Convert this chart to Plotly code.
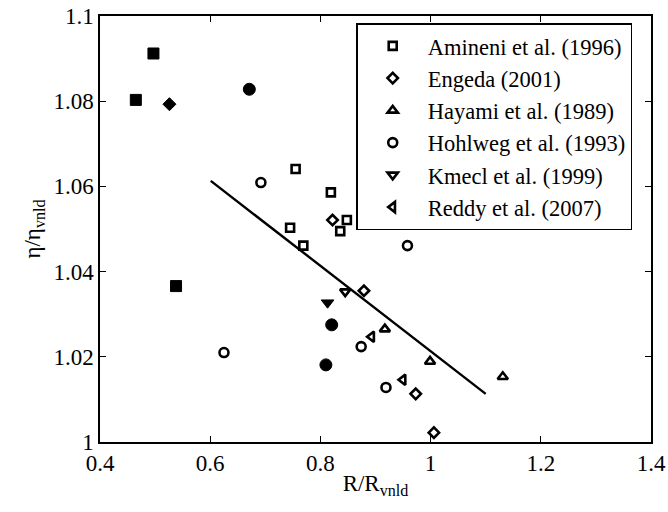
import plotly.graph_objects as go

# Open-marker series (in legend)
amineni_x = [0.755, 0.819, 0.745, 0.848, 0.836, 0.769]
amineni_y = [1.0641, 1.0586, 1.0503, 1.0521, 1.0495, 1.0461]

engeda_x = [0.822, 0.879, 0.973, 1.006]
engeda_y = [1.0521, 1.0355, 1.0113, 1.0022]

hayami_x = [0.917, 0.999, 1.131]
hayami_y = [1.0265, 1.0189, 1.0153]

hohlweg_x = [0.692, 0.958, 0.625, 0.874, 0.919]
hohlweg_y = [1.0609, 1.0461, 1.0210, 1.0224, 1.0128]

kmecl_x = [0.845]
kmecl_y = [1.0353]

reddy_x = [0.893, 0.950]
reddy_y = [1.0247, 1.0146]

# Filled-marker points (not in legend)
fsq_x = [0.497, 0.465, 0.538]
fsq_y = [1.0912, 1.0803, 1.0366]
fdia_x = [0.526]
fdia_y = [1.0793]
fcir_x = [0.671, 0.8205, 0.810]
fcir_y = [1.0828, 1.0275, 1.0181]
ftri_x = [0.813]
ftri_y = [1.0327]

# Fit line
fit_x = [0.601, 1.100]
fit_y = [1.0613, 1.0113]

x_ticks = [0.4, 0.6, 0.8, 1.0, 1.2, 1.4]
x_ticktext = ["0.4", "0.6", "0.8", "1", "1.2", "1.4"]
y_ticks = [1.0, 1.02, 1.04, 1.06, 1.08, 1.1]
y_ticktext = ["1", "1.02", "1.04", "1.06", "1.08", "1.1"]

FONT = "Liberation Serif"
FS = 23
FS_LEG = 22.5

fig = go.Figure()

def open_trace(x, y, name, symbol, size):
    fig.add_trace(go.Scatter(
        x=x, y=y, mode="markers", name=name,
        marker=dict(symbol=symbol, size=size, color="white",
                    line=dict(color="black", width=2.6)),
    ))

def filled_trace(x, y, symbol, size):
    fig.add_trace(go.Scatter(
        x=x, y=y, mode="markers", showlegend=False,
        marker=dict(symbol=symbol, size=size, color="black",
                    line=dict(color="black", width=1)),
    ))

fig.add_trace(go.Scatter(x=fit_x, y=fit_y, mode="lines", showlegend=False,
                         line=dict(color="black", width=2.4)))

open_trace(amineni_x, amineni_y, "Amineni et al. (1996)", "square", 8)
open_trace(engeda_x, engeda_y, "Engeda (2001)", "diamond", 8)
open_trace(hayami_x, hayami_y, "Hayami et al. (1989)", "triangle-up", 9)
open_trace(hohlweg_x, hohlweg_y, "Hohlweg et al. (1993)", "circle", 9)
open_trace(kmecl_x, kmecl_y, "Kmecl et al. (1999)", "triangle-down", 9)
open_trace(reddy_x, reddy_y, "Reddy et al. (2007)", "triangle-left", 9)

filled_trace(fsq_x, fsq_y, "square", 11)
filled_trace(fdia_x, fdia_y, "diamond", 10)
filled_trace(fcir_x, fcir_y, "circle", 12)
filled_trace(ftri_x, ftri_y, "triangle-down", 11)

axis_common = dict(
    showline=True, linecolor="black", linewidth=1.5, mirror="ticks",
    ticks="inside", ticklen=6, tickwidth=1.2, tickcolor="black",
    showgrid=False, zeroline=False, automargin=False,
    tickfont=dict(family=FONT, size=FS, color="black"),
)

fig.update_layout(
    template="none",
    width=668, height=512,
    margin=dict(l=100, r=17, t=16, b=70, autoexpand=False),
    paper_bgcolor="white", plot_bgcolor="white",
    font=dict(family=FONT, size=FS, color="black"),
    xaxis=dict(range=[0.4, 1.4], tickvals=x_ticks, ticktext=x_ticktext,
               title=dict(text="R/R<sub>vnld</sub>", standoff=0,
                          font=dict(family=FONT, size=FS)),
               **axis_common),
    yaxis=dict(range=[1.0, 1.1], tickvals=y_ticks, ticktext=y_ticktext,
               title=dict(text="η/η<sub>vnld</sub>", standoff=6,
                          font=dict(family=FONT, size=FS)),
               **axis_common),
    legend=dict(x=0.465, y=0.983, xanchor="left", yanchor="top",
                bgcolor="white", bordercolor="black", borderwidth=1.5,
                font=dict(family=FONT, size=FS_LEG, color="black"),
                tracegroupgap=0, itemwidth=60),
    showlegend=True,
)

fig.write_html("out.html")
